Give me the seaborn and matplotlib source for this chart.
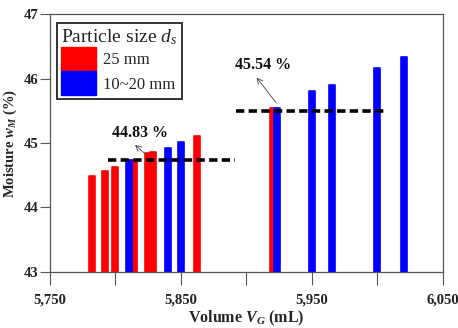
import numpy as np
import pandas as pd
import matplotlib
matplotlib.use("Agg")
import matplotlib.pyplot as plt
import seaborn as sns
from matplotlib.patches import Patch
from matplotlib.ticker import FixedLocator, FuncFormatter

# ---- data ----
volume_25 = [5782, 5792, 5800, 5814.5, 5825, 5829, 5862, 5920]
moist_25 = [44.49, 44.57, 44.62, 44.74, 44.85, 44.86, 45.11, 45.55]
volume_1020 = [5810, 5840, 5850, 5923.5, 5950, 5965, 6000, 6020]
moist_1020 = [44.74, 44.93, 45.02, 45.55, 45.80, 45.90, 46.17, 46.34]
size_labels = ["25 mm", "10~20 mm"]
mean_labels = ["44.83 %", "45.54 %"]
mean_levels = [44.74, 45.49]
mean_spans = [(5794, 5891), (5892, 6006)]
x_ticks = [5750, 5800, 5850, 5900, 5950, 6000, 6050]
x_labeled = [5750, 5850, 5950, 6050]
y_ticks = [43, 44, 45, 46, 47]

df = pd.DataFrame({
    "volume": volume_25 + volume_1020,
    "moisture": moist_25 + moist_1020,
    "size": [size_labels[0]] * len(volume_25) + [size_labels[1]] * len(volume_1020),
})

sns.set_style("white")
plt.rcParams["font.family"] = ["Liberation Serif", "DejaVu Serif"]
plt.rcParams["mathtext.fontset"] = "custom"
plt.rcParams["mathtext.rm"] = "Liberation Serif"
plt.rcParams["mathtext.it"] = "Liberation Serif:italic"
plt.rcParams["mathtext.bf"] = "Liberation Serif:bold"
plt.rcParams["mathtext.bfit"] = "Liberation Serif:bold:italic"

fig = plt.figure(figsize=(4.58, 3.28), dpi=100)
ax = fig.add_axes([0.109, 0.171, 0.858, 0.786])

palette = {size_labels[0]: "#ff0000", size_labels[1]: "#0000ff"}
vals = np.unique(df["volume"])
min_gap = np.min(np.diff(vals))
sns.barplot(data=df, x="volume", y="moisture", hue="size", palette=palette,
            native_scale=True, dodge=False, width=4.6 / min_gap, legend=False,
            saturation=1, ax=ax, errorbar=None)
for p in ax.patches:
    p.set_edgecolor(p.get_facecolor())
    p.set_linewidth(1.2)
    p.set_joinstyle("round")

# mean dashed lines
for lvl, (x0, x1) in zip(mean_levels, mean_spans):
    ax.plot([x0, x1], [lvl, lvl], color="black", lw=2.6, ls=(0, (2.3, 1.2)), zorder=5)

# annotations
ax.text(5819, 45.15, mean_labels[0], ha="center", va="center", fontsize=11.5,
        fontweight="bold", color="#111111")
ax.annotate("", xy=(5813.4, 45.0), xytext=(5825.6, 44.78),
            arrowprops=dict(arrowstyle="->", color="#444444", lw=0.6))
ax.text(5912.6, 46.21, mean_labels[1], ha="center", va="center", fontsize=11.5,
        fontweight="bold", color="#111111")
ax.annotate("", xy=(5906.5, 46.05), xytext=(5924, 45.59),
            arrowprops=dict(arrowstyle="->", color="#444444", lw=0.6))

ax.set_xlim(5750, 6050)
ax.set_ylim(43, 47)
ax.xaxis.set_major_locator(FixedLocator(x_ticks))
ax.xaxis.set_major_formatter(FuncFormatter(
    lambda v, pos: f"{int(round(v)):,}" if int(round(v)) in x_labeled else ""))
ax.yaxis.set_major_locator(FixedLocator(y_ticks))
ax.tick_params(axis="both", direction="out", width=0.8, color="#555555",
               labelsize=10.5, bottom=True, left=True)
ax.tick_params(axis="x", length=9.5, pad=6)
ax.tick_params(axis="y", length=7, pad=1)
for lab in ax.get_xticklabels() + ax.get_yticklabels():
    lab.set_fontweight("bold")
    lab.set_color("#222222")
for s in ax.spines.values():
    s.set_color("#555555")
    s.set_linewidth(0.9)

ax.set_xlabel(r"Volume $\mathbfit{V}_{\mathbfit{G}}$ (mL)", fontsize=11.5,
              fontweight="bold", labelpad=2)
ax.set_ylabel(r"Moisture $\mathbfit{w}_{\mathbfit{M}}$ (%)", fontsize=10.5,
              fontweight="bold", labelpad=4)

handles = [Patch(facecolor=palette[l], edgecolor=palette[l], label=l) for l in size_labels]
leg = ax.legend(handles=handles, title=r"Particle size $d_s$", loc="upper left",
                bbox_to_anchor=(0.018, 0.965), fontsize=12, title_fontsize=14,
                frameon=True, fancybox=False, edgecolor="black", handlelength=2.1,
                handleheight=1.85, labelspacing=0.0, handletextpad=0.4,
                borderpad=0.25, borderaxespad=0)
leg.get_frame().set_linewidth(1.4)
leg._legend_box.align = "left"

fig.savefig("out.png", dpi=100)
